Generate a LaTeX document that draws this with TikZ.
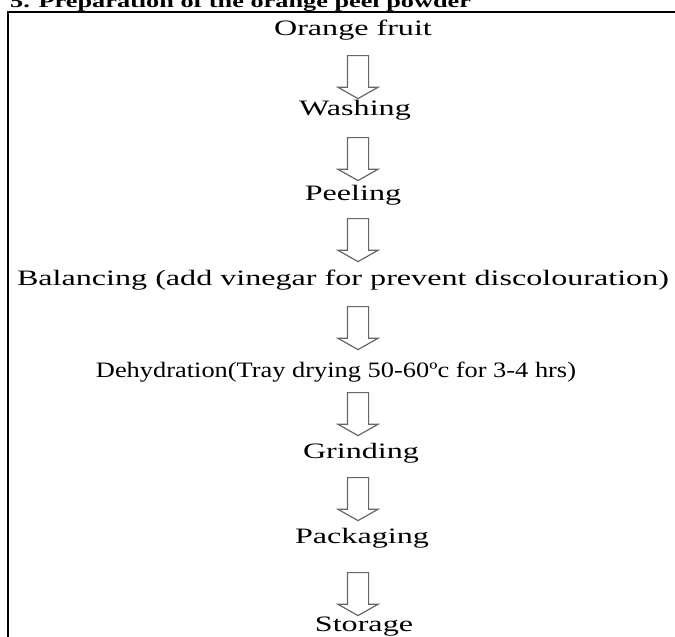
\documentclass[tikz,border=0pt]{standalone}
\usepackage{fontspec}
\newfontfamily\stepfont[FakeStretch=1.46]{Liberation Serif}
\newfontfamily\narrowfont[FakeStretch=1.2]{Liberation Serif}
\newfontfamily\titlefont{Liberation Serif}
\usetikzlibrary{shapes.arrows}

\begin{document}
\begin{tikzpicture}[
  x=1pt, y=-1pt,
  stepnode/.style={anchor=base, inner sep=0pt,
                   font=\stepfont\fontsize{22}{26}\selectfont},
  titlenode/.style={anchor=base west, inner sep=0pt,
                    font=\titlefont\bfseries\fontsize{18}{22}\selectfont},
  downarr/.style={single arrow, draw=black!60, line width=1.2pt,
                  rotate=-90, anchor=tail, inner xsep=0pt, inner ysep=10pt,
                  minimum height=43pt, minimum width=39pt,
                  single arrow head extend=9.5pt, single arrow tip angle=121},
  frame/.style={line width=1.3pt}
]
  \useasboundingbox (0,0) rectangle (675,637);
  % heading and frame
  \node[titlenode] (title) at (10,7)
    {\scalebox{1.46}[1]{5. Preparation of the orange peel powder}};
  \draw[frame] (680,12) -- (8,12) -- (8,645);
  % process steps
  \node[stepnode] (fruit) at (353,35)  {Orange fruit};
  \node[stepnode] (wash)  at (355,115) {Washing};
  \node[stepnode] (peel)  at (353,200) {Peeling};
  \node[stepnode] (bal)   at (343,285) {Balancing (add vinegar for prevent discolouration)};
  \node[stepnode, font=\narrowfont\fontsize{22}{26}\selectfont]
                  (dehyd) at (336,377) {Dehydration(Tray drying 50-60ºc for 3-4 hrs)};
  \node[stepnode] (grind) at (361,458) {Grinding};
  \node[stepnode] (pack)  at (362,543) {Packaging};
  \node[stepnode] (store) at (364,631) {Storage};
  % block arrows between steps
  \node[downarr] (a1) at (358,55)  {};
  \node[downarr] (a2) at (358,137) {};
  \node[downarr] (a3) at (358,218) {};
  \node[downarr] (a4) at (358,306) {};
  \node[downarr] (a5) at (358,392) {};
  \node[downarr] (a6) at (358,477) {};
  \node[downarr] (a7) at (358,572) {};
\end{tikzpicture}
\end{document}
